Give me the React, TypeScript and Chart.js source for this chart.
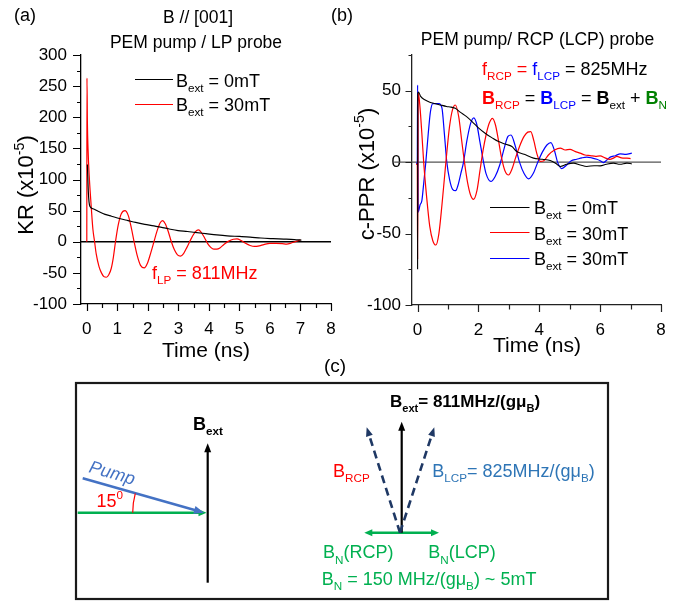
import React, { useEffect, useRef } from "react";
import { Chart, registerables } from "chart.js";

Chart.register(...registerables);

const FAM = '"Liberation Sans", Arial, Helvetica, sans-serif';
Chart.defaults.font.family = FAM;

// ---------------- DATA ----------------
// Panel (a): KR vs time
const TIME_TICKS_A = [0, 1, 2, 3, 4, 5, 6, 7, 8];
const TIME_MINOR_A = [0.5, 1.5, 2.5, 3.5, 4.5, 5.5, 6.5, 7.5];
const KR_TICKS = [-100, -50, 0, 50, 100, 150, 200, 250, 300];
const KR_MINOR = [-75, -25, 25, 75, 125, 175, 225, 275];

const tA0 = [0.02, 0.05, 0.1, 0.2, 0.37, 0.6, 0.81, 1.1, 1.35, 1.6, 1.9, 2.2, 2.45, 2.7, 2.99, 3.3, 3.54, 3.9, 4.26, 4.6, 5.0, 5.35, 5.7, 6.1, 6.45, 6.8, 7.03];
const krA0 = [124, 80, 57, 53, 49, 44, 41, 37, 34, 31, 28, 25.5, 23, 20.5, 18, 16.5, 15, 13, 11, 9.5, 8.5, 7.5, 6, 5, 4.3, 3.5, 2.7];

const tA30 = [0, 0.005, 0.02, 0.04, 0.08, 0.13, 0.2, 0.25, 0.31, 0.4, 0.48, 0.56, 0.64, 0.72, 0.8, 0.87, 0.94, 1.03, 1.13, 1.25, 1.36, 1.46, 1.55, 1.65, 1.76, 1.88, 1.99, 2.1, 2.2, 2.3, 2.4, 2.48, 2.57, 2.67, 2.77, 2.87, 2.97, 3.07, 3.17, 3.28, 3.4, 3.5, 3.6, 3.66, 3.75, 3.86, 3.96, 4.06, 4.16, 4.26, 4.36, 4.5, 4.65, 4.8, 4.92, 5.05, 5.2, 5.35, 5.5, 5.65, 5.8, 6.0, 6.2, 6.4, 6.55, 6.7, 6.85, 7.0];
const krA30 = [0, 263, 190, 150, 105, 67, 20, 2, -20, -40, -50, -56, -57, -53, -43, -25, 0, 27, 45, 50, 42, 22, 0, -22, -38, -42, -34, -17, 0, 17, 30, 34, 29, 16, 0, -13, -21, -23, -19, -9, 3, 12, 18, 19, 15, 6, -3, -9, -12, -12, -10, -4, 1, 4, 4.5, 2, -2.5, -6, -7.5, -6.5, -4.5, -2.5, -2.5, -3, -3.8, -2, 0.5, 3];

// Panel (b): c-PPR vs time
const TIME_TICKS_B = [0, 2, 4, 6, 8];
const TIME_MINOR_B = [1, 3, 5, 7];
const PPR_TICKS = [-100, -50, 0, 50];
const PPR_MINOR = [-75, -25, 25, 75];

const tB0 = [0, 0.005, 0.03, 0.1, 0.25, 0.4, 0.56, 0.75, 0.95, 1.1, 1.24, 1.4, 1.6, 1.79, 2.0, 2.22, 2.45, 2.66, 2.9, 3.1, 3.26, 3.5, 3.81, 4.1, 4.36, 4.55, 4.69, 4.9, 5.12, 5.35, 5.56, 5.8, 6.0, 6.2, 6.44, 6.65, 6.88, 7.04];
const pprB0 = [-75, 48, 49, 46, 43.5, 42, 41, 40, 39, 38.5, 37.7, 35, 32, 28.4, 24, 20.2, 17, 14.4, 12.5, 10.9, 7.4, 5.5, 2.8, 2, 1.1, -1, -3, -1.5, -0.7, -2, -3, -2.5, -2.6, -1.5, -0.7, -1.5, -0.7, -1.2];

const tBr = [-0.05, -0.01, 0, 0.02, 0.08, 0.14, 0.2, 0.3, 0.4, 0.5, 0.6, 0.7, 0.8, 0.93, 1.05, 1.15, 1.24, 1.35, 1.45, 1.54, 1.64, 1.74, 1.84, 1.95, 2.05, 2.15, 2.25, 2.35, 2.46, 2.56, 2.66, 2.76, 2.87, 2.99, 3.1, 3.22, 3.35, 3.5, 3.62, 3.72, 3.82, 3.92, 4.03, 4.15, 4.3, 4.5, 4.69, 4.85, 5.01, 5.17, 5.34, 5.5, 5.67, 5.85, 6.0, 6.16, 6.32, 6.45, 6.55, 6.7, 6.88, 7.0];
const pprBr = [-1.5, -1.5, -68, 49, 38, 20, 0, -25, -45, -55, -58, -50, -30, 0, 25, 37, 40, 32, 15, 0, -14, -23, -26, -20, -6, 8, 19, 27, 30.7, 26, 15, 3, -6, -9, -5, 3, 11, 18, 21, 21.4, 15, 6, 0.5, 1, 5, 8.5, 9.8, 8.5, 9, 7.5, 6.3, 5, 4.6, 4, 4.4, 3, 2, 3, 4, 3, 2.8, 2.5];

const tBb = [-0.05, -0.01, 0, 0.02, 0.08, 0.14, 0.2, 0.27, 0.35, 0.42, 0.5, 0.6, 0.7, 0.8, 0.88, 0.96, 1.05, 1.15, 1.25, 1.33, 1.42, 1.51, 1.62, 1.74, 1.85, 1.95, 2.05, 2.15, 2.25, 2.41, 2.55, 2.7, 2.85, 2.97, 3.07, 3.2, 3.35, 3.5, 3.65, 3.8, 3.95, 4.1, 4.25, 4.38, 4.5, 4.6, 4.74, 4.9, 5.05, 5.23, 5.4, 5.56, 5.72, 5.89, 6.0, 6.11, 6.22, 6.33, 6.5, 6.66, 6.85, 7.04];
const pprBb = [-1, 0, 54, -35, -30, -27, -15, 0, 20, 35, 41, 41, 41, 38, 20, 0, -12, -19, -20, -16, -8, 0, 15, 27, 31, 26, 14, 2, -8, -13.5, -10, -2, 10, 18, 19, 12, 0, -8, -11.7, -8, 0, 7, 12, 13.7, 8, 0, -4.5, -2, 1, 2, 3, 3.5, 3, 2, 1, -0.3, 1.5, 3.5, 4.5, 5.8, 5.5, 6.3];

// ---------------- STYLE ----------------
const RED = "#ff0000";
const BLUE = "#0000ff";
const DKGREEN = "#008000";
const LTGREEN = "#00b050";
const TXTBLUE = "#2e75b6";
const NAVY = "#1f3864";
const PUMPBLUE = "#4472c4";

type Seg = { t: string; c?: string; s?: "sub" | "sup"; b?: boolean; i?: boolean };

function segFont(size: number, sg: Seg) {
  const fs = sg.s ? size * 0.65 : size;
  return `${sg.i ? "italic " : ""}${sg.b ? "bold " : ""}${fs}px ${FAM}`;
}
function richWidth(ctx: CanvasRenderingContext2D, segs: Seg[], size: number) {
  let w = 0;
  for (const sg of segs) {
    ctx.font = segFont(size, sg);
    w += ctx.measureText(sg.t).width;
  }
  return w;
}
function drawRich(ctx: CanvasRenderingContext2D, segs: Seg[], x: number, y: number, size: number, align: "left" | "center" | "right" = "left", color = "#000") {
  const w = richWidth(ctx, segs, size);
  let cx = align === "center" ? x - w / 2 : align === "right" ? x - w : x;
  ctx.textAlign = "left";
  ctx.textBaseline = "alphabetic";
  for (const sg of segs) {
    ctx.font = segFont(size, sg);
    ctx.fillStyle = sg.c || color;
    const dy = sg.s === "sub" ? size * 0.28 : sg.s === "sup" ? -size * 0.42 : 0;
    ctx.fillText(sg.t, cx, y + dy);
    cx += ctx.measureText(sg.t).width;
  }
}

function pts(xs: number[], ys: number[]) {
  return xs.map((x, i) => ({ x, y: ys[i] }));
}

type Decor = {
  xMajor: number[]; xMinor: number[]; yMajor: number[]; yMinor: number[];
  xMajLen: number; xMinLen: number; yMajLen: number; yMinLen: number;
  axisColor: string;
  zeroFrom: number | null; zeroColor: string;
  draw: (ctx: CanvasRenderingContext2D) => void;
};

function decorPlugin(d: Decor) {
  return {
    id: "decor",
    beforeDatasetsDraw(chart: any) {
      const ctx = chart.ctx as CanvasRenderingContext2D;
      const xs = chart.scales.x, ys = chart.scales.y, ca = chart.chartArea;
      const y0 = ys.getPixelForValue(0);
      const xl = d.zeroFrom === null ? ca.left : xs.getPixelForValue(d.zeroFrom);
      ctx.save();
      ctx.strokeStyle = d.zeroColor;
      ctx.lineWidth = 1.3;
      ctx.beginPath();
      ctx.moveTo(xl, y0);
      ctx.lineTo(ca.right, y0);
      ctx.stroke();
      ctx.restore();
    },
    afterDraw(chart: any) {
      const ctx = chart.ctx as CanvasRenderingContext2D;
      const xs = chart.scales.x, ys = chart.scales.y, ca = chart.chartArea;
      ctx.save();
      ctx.strokeStyle = d.axisColor;
      ctx.lineWidth = 1.2;
      ctx.beginPath();
      const tx = (vals: number[], len: number) => vals.forEach((v) => {
        const p = Math.round(xs.getPixelForValue(v)) + 0.5;
        ctx.moveTo(p, ca.bottom);
        ctx.lineTo(p, ca.bottom + len);
      });
      const ty = (vals: number[], len: number) => vals.forEach((v) => {
        const p = Math.round(ys.getPixelForValue(v)) + 0.5;
        ctx.moveTo(ca.left, p);
        ctx.lineTo(ca.left - len, p);
      });
      tx(d.xMajor, d.xMajLen);
      tx(d.xMinor, d.xMinLen);
      ty(d.yMajor, d.yMajLen);
      ty(d.yMinor, d.yMinLen);
      ctx.stroke();
      d.draw(ctx);
      ctx.restore();
    },
  };
}

function makeConfig(opts: {
  datasets: any[]; xMin: number; xMax: number; yMin: number; yMax: number;
  xTicks: number[]; yTicks: number[]; yWidth: number; xHeight: number; padRight: number;
  yPad: number; xPad: number; axisColor: string; plugin: any;
}) {
  const tickFont = { family: FAM, size: 17 };
  return {
    type: "line" as const,
    data: { datasets: opts.datasets },
    options: {
      responsive: false,
      animation: false as const,
      layout: { padding: { left: 0, right: opts.padRight, top: 55, bottom: 0 } },
      plugins: { legend: { display: false }, tooltip: { enabled: false }, title: { display: false } },
      elements: { point: { radius: 0 }, line: { borderWidth: 1.2, cubicInterpolationMode: "monotone" as const } },
      scales: {
        x: {
          type: "linear" as const,
          min: opts.xMin,
          max: opts.xMax,
          bounds: "data" as const,
          afterBuildTicks: (s: any) => { s.ticks = opts.xTicks.map((v) => ({ value: v })); },
          afterFit: (s: any) => { s.height = opts.xHeight; },
          grid: { display: true, drawOnChartArea: false, drawTicks: true, tickLength: 7, color: "rgba(0,0,0,0)", tickColor: "rgba(0,0,0,0)" },
          border: { display: true, color: opts.axisColor, width: 1.3 },
          ticks: { font: tickFont, color: "#000", padding: opts.xPad, maxRotation: 0, autoSkip: false, callback: (v: any) => String(v) },
        },
        y: {
          type: "linear" as const,
          min: opts.yMin,
          max: opts.yMax,
          bounds: "data" as const,
          afterBuildTicks: (s: any) => { s.ticks = opts.yTicks.map((v) => ({ value: v })); },
          afterFit: (s: any) => { s.width = opts.yWidth; },
          grid: { display: true, drawOnChartArea: false, drawTicks: true, tickLength: 8, color: "rgba(0,0,0,0)", tickColor: "rgba(0,0,0,0)" },
          border: { display: true, color: opts.axisColor, width: 1.3 },
          ticks: { font: tickFont, color: "#000", padding: opts.yPad, autoSkip: false, callback: (v: any) => String(v) },
        },
      },
    },
    plugins: [opts.plugin],
  };
}

function configA() {
  const plugin = decorPlugin({
    xMajor: TIME_TICKS_A, xMinor: TIME_MINOR_A, yMajor: KR_TICKS, yMinor: KR_MINOR,
    xMajLen: 7, xMinLen: 4, yMajLen: 8, yMinLen: 4,
    axisColor: "#000", zeroFrom: null, zeroColor: "#000",
    draw: (ctx) => {
      drawRich(ctx, [{ t: "(a)" }], 14, 21, 18);
      drawRich(ctx, [{ t: "B // [001]" }], 198, 23, 17.5, "center");
      drawRich(ctx, [{ t: "PEM pump / LP probe" }], 196, 48, 17.5, "center");
      ctx.lineWidth = 1.2;
      ctx.strokeStyle = "#000";
      ctx.beginPath(); ctx.moveTo(135, 79.5); ctx.lineTo(173, 79.5); ctx.stroke();
      ctx.strokeStyle = RED;
      ctx.beginPath(); ctx.moveTo(135, 104.5); ctx.lineTo(173, 104.5); ctx.stroke();
      drawRich(ctx, [{ t: "B" }, { t: "ext", s: "sub" }, { t: " = 0mT" }], 176, 87, 18);
      drawRich(ctx, [{ t: "B" }, { t: "ext", s: "sub" }, { t: " = 30mT" }], 176, 110.5, 18);
      drawRich(ctx, [{ t: "f", c: RED }, { t: "LP", s: "sub", c: RED }, { t: " = 811MHz", c: RED }], 152, 279, 18);
      ctx.save();
      ctx.translate(33, 185);
      ctx.rotate(-Math.PI / 2);
      drawRich(ctx, [{ t: "KR (x10" }, { t: "-5", s: "sup" }, { t: ")" }], 0, 0, 22, "center");
      ctx.restore();
      drawRich(ctx, [{ t: "Time (ns)" }], 206, 356.5, 21, "center");
    },
  });
  return makeConfig({
    datasets: [
      { data: pts(tA0, krA0), borderColor: "#000", borderWidth: 1.2 },
      { data: pts(tA30, krA30), borderColor: RED, borderWidth: 1.2 },
    ],
    xMin: -0.19, xMax: 8, yMin: -100, yMax: 300,
    xTicks: TIME_TICKS_A, yTicks: KR_TICKS,
    yWidth: 81, xHeight: 66, padRight: 14, yPad: 6, xPad: 8, axisColor: "#000", plugin,
  });
}

function configB() {
  const OX = 320;
  const plugin = decorPlugin({
    xMajor: TIME_TICKS_B, xMinor: TIME_MINOR_B, yMajor: PPR_TICKS, yMinor: PPR_MINOR,
    xMajLen: 7, xMinLen: 4.5, yMajLen: 6.5, yMinLen: 3.5,
    axisColor: "#222", zeroFrom: -0.77, zeroColor: "#555",
    draw: (ctx) => {
      drawRich(ctx, [{ t: "(b)" }], 331 - OX, 21, 18);
      drawRich(ctx, [{ t: "PEM pump/ RCP (LCP) probe" }], 537.5 - OX, 45, 17.5, "center");
      drawRich(ctx, [
        { t: "f", c: RED }, { t: "RCP", s: "sub", c: RED }, { t: " = ", c: RED },
        { t: "f", c: BLUE }, { t: "LCP", s: "sub", c: BLUE }, { t: " = 825MHz" },
      ], 482 - OX, 75, 18);
      drawRich(ctx, [
        { t: "B", b: true, c: RED }, { t: "RCP", s: "sub", c: RED }, { t: " = " },
        { t: "B", b: true, c: BLUE }, { t: "LCP", s: "sub", c: BLUE }, { t: " = " },
        { t: "B", b: true }, { t: "ext", s: "sub" }, { t: " + " },
        { t: "B", b: true, c: DKGREEN }, { t: "N", s: "sub", c: DKGREEN },
      ], 482 - OX, 104, 18);
      const ly = [207.5, 232.5, 258.5];
      const lc = ["#000", RED, BLUE];
      const lt = [" = 0mT", " = 30mT", " = 30mT"];
      const lb = [214.3, 239.7, 265];
      ctx.lineWidth = 1.2;
      for (let i = 0; i < 3; i++) {
        ctx.strokeStyle = lc[i];
        ctx.beginPath(); ctx.moveTo(490 - OX, ly[i]); ctx.lineTo(529.5 - OX, ly[i]); ctx.stroke();
        drawRich(ctx, [{ t: "B" }, { t: "ext", s: "sub" }, { t: lt[i] }], 534 - OX, lb[i], 18);
      }
      ctx.save();
      ctx.translate(373.5 - OX, 174);
      ctx.rotate(-Math.PI / 2);
      drawRich(ctx, [{ t: "c-PPR (x10" }, { t: "-5", s: "sup" }, { t: ")" }], 0, 0, 22, "center");
      ctx.restore();
      drawRich(ctx, [{ t: "Time (ns)" }], 537 - OX, 351.5, 21, "center");
    },
  });
  return makeConfig({
    datasets: [
      { data: pts(tB0, pprB0), borderColor: "#000", borderWidth: 1.1 },
      { data: pts(tBr, pprBr), borderColor: RED, borderWidth: 1.2 },
      { data: pts(tBb, pprBb), borderColor: BLUE, borderWidth: 1.2 },
    ],
    xMin: -0.184, xMax: 8, yMin: -100, yMax: 75,
    xTicks: TIME_TICKS_B, yTicks: PPR_TICKS,
    yWidth: 92, xHeight: 65, padRight: 28, yPad: 3, xPad: 8, axisColor: "#222", plugin,
  });
}

// ---------------- DIAGRAM (c) ----------------
function SvgRich(props: { x: number; y: number; size: number; segs: Seg[]; color: string; bold?: boolean; italic?: boolean }) {
  let cur = 0;
  const { size } = props;
  return (
    <text x={props.x} y={props.y} fontSize={size} fill={props.color} fontFamily={FAM}
      fontWeight={props.bold ? "bold" : "normal"} fontStyle={props.italic ? "italic" : "normal"}
      xmlSpace="preserve" style={{ whiteSpace: "pre" }}>
      {props.segs.map((sg, k) => {
        const target = sg.s === "sub" ? size * 0.3 : sg.s === "sup" ? -size * 0.42 : 0;
        const dy = target - cur;
        cur = target;
        return (
          <tspan key={k} dy={dy} fontSize={sg.s ? size * 0.65 : size} fill={sg.c || props.color}
            fontWeight={sg.b ? "bold" : undefined}>{sg.t}</tspan>
        );
      })}
    </text>
  );
}

function Arrow(props: { x1: number; y1: number; x2: number; y2: number; color: string; w?: number; dash?: string; len?: number; half?: number; both?: boolean }) {
  const { x1, y1, x2, y2, color } = props;
  const len = props.len ?? 9, half = props.half ?? 4;
  const dx = x2 - x1, dy = y2 - y1, L = Math.hypot(dx, dy);
  const ux = dx / L, uy = dy / L;
  const px = -uy * half, py = ux * half;
  const head = (tx: number, ty: number, sx: number, sy: number) => {
    const bx = tx - sx * len, by = ty - sy * len;
    return `${tx},${ty} ${bx + px},${by + py} ${bx - px},${by - py}`;
  };
  const sx = props.both ? x1 + ux * len * 0.8 : x1;
  const sy = props.both ? y1 + uy * len * 0.8 : y1;
  return (
    <g>
      <line x1={sx} y1={sy} x2={x2 - ux * len * 0.8} y2={y2 - uy * len * 0.8} stroke={color} strokeWidth={props.w ?? 2} strokeDasharray={props.dash} />
      <polygon points={head(x2, y2, ux, uy)} fill={color} />
      {props.both ? <polygon points={head(x1, y1, -ux, -uy)} fill={color} /> : null}
    </g>
  );
}

function Diagram() {
  return (
    <svg width={689} height={247} viewBox="0 355 689 247" style={{ position: "absolute", left: 0, top: 355 }}>
      <SvgRich x={324} y={371.5} size={19} segs={[{ t: "(c)" }]} color="#000" />
      <rect x={76} y={383} width={532} height={216} fill="none" stroke="#1a1a1a" strokeWidth={2.2} />
      {/* left sketch */}
      <Arrow x1={207.7} y1={582.7} x2={207.7} y2={443.3} color="#000" w={2.2} len={9} half={3.5} />
      <SvgRich x={193} y={429.5} size={18} bold segs={[{ t: "B" }, { t: "ext", s: "sub" }]} color="#000" />
      <Arrow x1={77.7} y1={512.7} x2={206.5} y2={512.7} color={LTGREEN} w={2.5} len={8} half={3.5} />
      <Arrow x1={82.7} y1={478.3} x2={204} y2={512.7} color={PUMPBLUE} w={2.5} len={10} half={4} />
      <g transform="translate(88,472) rotate(16)">
        <SvgRich x={0} y={0} size={18} italic segs={[{ t: "Pump" }]} color={PUMPBLUE} />
      </g>
      <SvgRich x={96.5} y={506.5} size={18} segs={[{ t: "15" }, { t: "0", s: "sup" }]} color={RED} />
      <path d="M 132.7 512.7 A 75 75 0 0 1 135.3 493.3" fill="none" stroke={RED} strokeWidth={1.2} />
      {/* right sketch */}
      <SvgRich x={390} y={407.3} size={17} bold segs={[{ t: "B" }, { t: "ext", s: "sub" }, { t: "= 811MHz/(gμ" }, { t: "B", s: "sub" }, { t: ")" }]} color="#000" />
      <Arrow x1={364.3} y1={532.7} x2={439} y2={532.7} color={LTGREEN} w={2.5} len={8} half={3.5} both />
      <Arrow x1={401.7} y1={532.7} x2={401.7} y2={421.7} color="#000" w={2.2} len={9} half={3.5} />
      <Arrow x1={400} y1={532.7} x2={366.7} y2={427.3} color={NAVY} w={2.6} dash="8 5" len={9} half={3.5} />
      <Arrow x1={400} y1={532.7} x2={434.3} y2={427.3} color={NAVY} w={2.6} dash="8 5" len={9} half={3.5} />
      <SvgRich x={333} y={476.7} size={18} segs={[{ t: "B" }, { t: "RCP", s: "sub" }]} color={RED} />
      <SvgRich x={432.3} y={476.7} size={18} segs={[{ t: "B" }, { t: "LCP", s: "sub" }, { t: "= 825MHz/(gμ" }, { t: "B", s: "sub" }, { t: ")" }]} color={TXTBLUE} />
      <SvgRich x={323} y={558.3} size={18} segs={[{ t: "B" }, { t: "N", s: "sub" }, { t: "(RCP)" }]} color={LTGREEN} />
      <SvgRich x={428.3} y={558.3} size={18} segs={[{ t: "B" }, { t: "N", s: "sub" }, { t: "(LCP)" }]} color={LTGREEN} />
      <SvgRich x={321.7} y={585} size={18} segs={[{ t: "B" }, { t: "N", s: "sub" }, { t: " = 150 MHz/(gμ" }, { t: "B", s: "sub" }, { t: ") ~ 5mT" }]} color={LTGREEN} />
    </svg>
  );
}

export default function App() {
  const refA = useRef<HTMLCanvasElement>(null);
  const refB = useRef<HTMLCanvasElement>(null);
  useEffect(() => {
    const a = new Chart(refA.current as HTMLCanvasElement, configA() as any);
    const b = new Chart(refB.current as HTMLCanvasElement, configB() as any);
    return () => { a.destroy(); b.destroy(); };
  }, []);
  return (
    <div style={{ position: "absolute", left: 0, top: 0, width: 689, height: 602, background: "#fff", overflow: "hidden" }}>
      <canvas ref={refA} width={345} height={370} style={{ position: "absolute", left: 0, top: 0, width: 345, height: 370 }} />
      <canvas ref={refB} width={369} height={370} style={{ position: "absolute", left: 320, top: 0, width: 369, height: 370 }} />
      <Diagram />
    </div>
  );
}
